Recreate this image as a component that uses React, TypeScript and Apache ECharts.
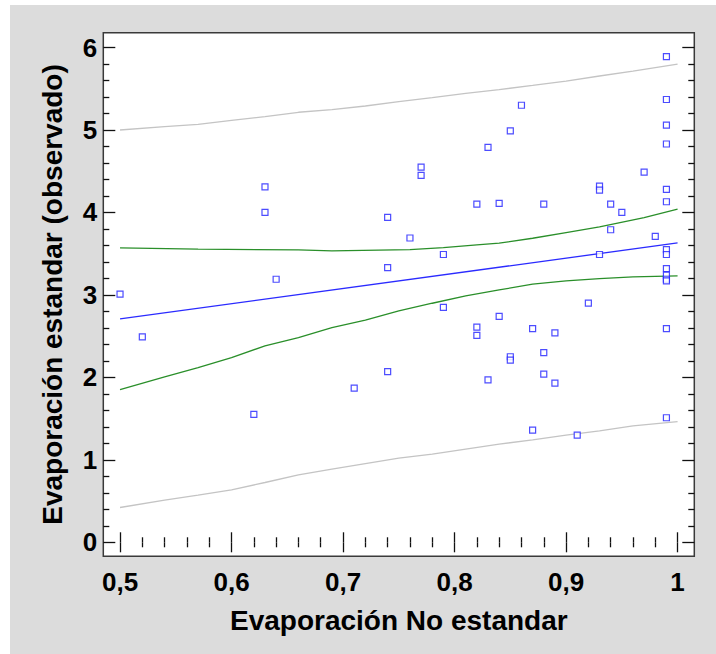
import React, { useEffect, useRef } from "react";
import * as echarts from "echarts";

// Observed points, grouped by x value
const pointX: number[] = [
  0.5, 0.52, 0.62, 0.63, 0.63, 0.64, 0.71, 0.74, 0.74, 0.74, 0.76, 0.77, 0.77,
  0.79, 0.79, 0.82, 0.82, 0.82, 0.83, 0.83, 0.84, 0.84, 0.85, 0.85, 0.85, 0.86,
  0.87, 0.87, 0.88, 0.88, 0.88, 0.89, 0.89, 0.91, 0.92, 0.93, 0.93, 0.93, 0.94,
  0.94, 0.95, 0.97, 0.98, 0.99, 0.99, 0.99, 0.99, 0.99, 0.99, 0.99, 0.99, 0.99,
  0.99, 0.99, 0.99, 0.99, 0.99,
];
const pointY: number[] = [
  3.01, 2.49, 1.55, 4.31, 4.0, 3.19, 1.87, 3.94, 3.33, 2.07, 3.69, 4.55, 4.45,
  3.49, 2.85, 4.1, 2.61, 2.51, 4.79, 1.97, 4.11, 2.74, 4.99, 2.25, 2.21, 5.3,
  2.59, 1.36, 4.1, 2.3, 2.04, 2.54, 1.93, 1.3, 2.9, 4.32, 4.27, 3.49, 4.1,
  3.79, 4.0, 4.49, 3.71, 5.89, 5.37, 5.06, 4.83, 4.28, 4.13, 3.55, 3.49, 3.32,
  3.24, 3.19, 3.17, 2.59, 1.51,
];

// Fitted line
const fitX: number[] = [0.5, 1.0];
const fitY: number[] = [2.71, 3.63];

// Confidence band (green)
const confUpperX: number[] = [0.5, 0.57, 0.66, 0.69, 0.76, 0.79, 0.82, 0.84, 0.87, 0.9, 0.93, 0.97, 1.0];
const confUpperY: number[] = [3.57, 3.555, 3.545, 3.533, 3.55, 3.573, 3.606, 3.628, 3.687, 3.755, 3.824, 3.937, 4.04];
const confLowerX: number[] = [0.5, 0.54, 0.57, 0.6, 0.63, 0.66, 0.69, 0.72, 0.75, 0.78, 0.81, 0.84, 0.87, 0.9, 0.93, 0.96, 1.0];
const confLowerY: number[] = [1.85, 2.006, 2.119, 2.24, 2.382, 2.482, 2.604, 2.693, 2.806, 2.899, 2.988, 3.06, 3.13, 3.17, 3.198, 3.218, 3.23];

// Prediction band (gray)
const predX: number[] = [0.5, 0.54, 0.57, 0.6, 0.63, 0.66, 0.69, 0.72, 0.75, 0.78, 0.81, 0.84, 0.87, 0.9, 0.93, 0.96, 1.0];
const predUpperY: number[] = [5.0, 5.04, 5.069, 5.117, 5.161, 5.215, 5.246, 5.291, 5.343, 5.392, 5.445, 5.49, 5.541, 5.594, 5.655, 5.715, 5.8];
const predLowerY: number[] = [0.422, 0.511, 0.572, 0.636, 0.725, 0.818, 0.887, 0.955, 1.02, 1.069, 1.13, 1.19, 1.242, 1.299, 1.352, 1.412, 1.464];

// Axis ticks
const xMajor: number[] = [0.5, 0.6, 0.7, 0.8, 0.9, 1.0];
const xMinor: number[] = [
  0.52, 0.54, 0.56, 0.58, 0.62, 0.64, 0.66, 0.68, 0.72, 0.74, 0.76, 0.78,
  0.82, 0.84, 0.86, 0.88, 0.92, 0.94, 0.96, 0.98,
];
const yMajor: number[] = [0, 1, 2, 3, 4, 5, 6];
const yMinor: number[] = [
  0.2, 0.4, 0.6, 0.8, 1.2, 1.4, 1.6, 1.8, 2.2, 2.4, 2.6, 2.8, 3.2, 3.4, 3.6,
  3.8, 4.2, 4.4, 4.6, 4.8, 5.2, 5.4, 5.6, 5.8,
];

const X_MIN = 0.485;
const X_MAX = 1.015;
const Y_MIN = -0.17;
const Y_MAX = 6.18;

const FONT = "'Liberation Sans', Arial, Helvetica, sans-serif";

const zip = (xs: number[], ys: number[]) => xs.map((x, i) => [x, ys[i]]);

export default function App() {
  const ref = useRef<HTMLDivElement>(null);

  useEffect(() => {
    if (!ref.current) return;
    const chart = echarts.init(ref.current, undefined, { renderer: "svg" });

    const tickStyle = { color: "#111", width: 1.3 };
    const mkX = (position: "bottom" | "top", ticks: number[], len: number, labels: boolean) => ({
      type: "value" as const,
      min: X_MIN,
      max: X_MAX,
      position,
      axisLine: { show: false },
      splitLine: { show: false },
      axisTick: { show: true, inside: true, length: len, customValues: ticks, lineStyle: tickStyle },
      axisLabel: labels
        ? {
            show: true,
            customValues: xMajor,
            margin: 13,
            fontFamily: FONT,
            fontWeight: "bold",
            fontSize: 26,
            color: "#000",
            formatter: (v: number) => String(v).replace(".", ","),
          }
        : { show: false },
    });
    const mkY = (position: "left" | "right", ticks: number[], len: number, labels: boolean) => ({
      type: "value" as const,
      min: Y_MIN,
      max: Y_MAX,
      position,
      axisLine: { show: false },
      splitLine: { show: false },
      axisTick: { show: true, inside: true, length: len, customValues: ticks, lineStyle: tickStyle },
      axisLabel: labels
        ? {
            show: true,
            customValues: yMajor,
            margin: 6,
            fontFamily: FONT,
            fontWeight: "bold",
            fontSize: 26,
            color: "#000",
          }
        : { show: false },
    });

    const xAxes: any[] = [
      mkX("bottom", xMajor, 10, true),
      mkX("bottom", xMinor, 5, false),
      mkX("top", xMajor, 10, false),
      mkX("top", xMinor, 5, false),
    ];
    xAxes[0].name = "Evaporación No estandar";
    xAxes[0].nameLocation = "middle";
    xAxes[0].nameGap = 50;
    xAxes[0].nameTextStyle = { fontFamily: FONT, fontWeight: "bold", fontSize: 28, color: "#000" };

    const yAxes: any[] = [
      mkY("left", yMajor, 12, true),
      mkY("left", yMinor, 6, false),
      mkY("right", yMajor, 12, false),
      mkY("right", yMinor, 6, false),
    ];
    yAxes[0].name = "Evaporación estandar (observado)";
    yAxes[0].nameLocation = "middle";
    yAxes[0].nameGap = 37;
    yAxes[0].nameTextStyle = { fontFamily: FONT, fontWeight: "bold", fontSize: 28, color: "#000" };

    const lineSeries = (data: number[][], color: string) => ({
      type: "line" as const,
      data,
      showSymbol: false,
      symbol: "none",
      smooth: false,
      lineStyle: { color, width: 1.3 },
      silent: true,
      z: 2,
    });

    chart.setOption({
      animation: false,
      backgroundColor: "#dcdcdc",
      grid: {
        left: 93.3,
        top: 27.7,
        width: 591,
        height: 523.6,
        show: true,
        backgroundColor: "#ffffff",
        borderColor: "#3a3a3a",
        borderWidth: 1.5,
        containLabel: false,
      },
      xAxis: xAxes,
      yAxis: yAxes,
      series: [
        lineSeries(zip(predX, predUpperY), "#c4c4c4"),
        lineSeries(zip(predX, predLowerY), "#c4c4c4"),
        lineSeries(zip(confUpperX, confUpperY), "#2a8f2a"),
        lineSeries(zip(confLowerX, confLowerY), "#2a8f2a"),
        lineSeries(zip(fitX, fitY), "#2b2bff"),
        {
          type: "scatter",
          data: zip(pointX, pointY),
          symbol: "rect",
          symbolSize: 6,
          itemStyle: { color: "#ffffff", borderColor: "#1f1fff", borderWidth: 1.2 },
          z: 3,
        },
      ],
    });

    return () => chart.dispose();
  }, []);

  return (
    <div style={{ position: "fixed", left: 0, top: 0, width: 716, height: 654, background: "#ffffff" }}>
      <div ref={ref} style={{ position: "absolute", left: 10, top: 5, width: 706, height: 649 }} />
    </div>
  );
}
